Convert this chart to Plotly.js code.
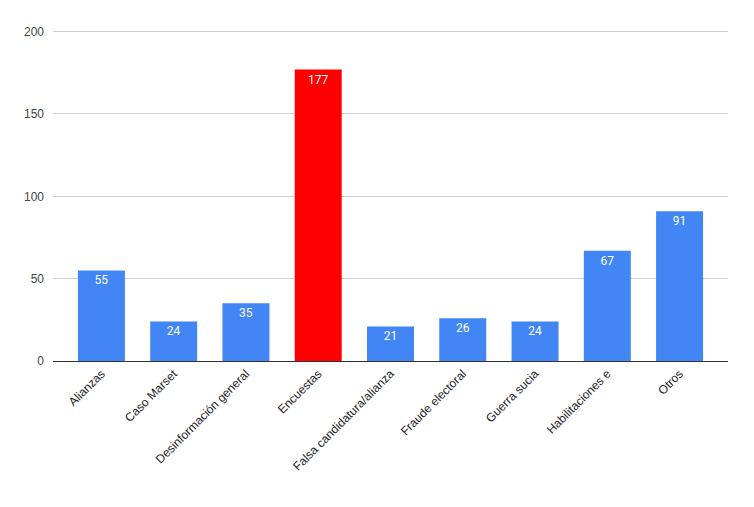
<!DOCTYPE html>
<html>
<head>
<meta charset="utf-8">
<script src="https://cdn.plot.ly/plotly-3.0.1.min.js"></script>
<style>
  html, body { margin: 0; padding: 0; background: #fff; }
  #chart { width: 754px; height: 507px; }
</style>
</head>
<body>
<div id="chart"></div>
<script>
// Temas y número de publicaciones
const categorias = ['Alianzas', 'Caso Marset', 'Desinformación general', 'Encuestas',
  'Falsa candidatura/alianza', 'Fraude electoral', 'Guerra sucia', 'Habilitaciones e', 'Otros'];
const valores = [55, 24, 35, 177, 21, 26, 24, 67, 91];
const destacado = 'Encuestas';
const ticksY = [0, 50, 100, 150, 200];

const colores = categorias.map(c => c === destacado ? '#ff0000' : '#4285f4');

const traza = {
  type: 'bar',
  x: categorias,
  y: valores,
  marker: { color: colores },
  text: valores.map(String),
  textposition: 'inside',
  insidetextanchor: 'end',
  textfont: { family: 'Roboto, Arial, sans-serif', size: 12, color: '#ffffff' },
  hoverinfo: 'x+y',
};

Plotly.newPlot('chart', [traza], {
  width: 754, height: 507,
  paper_bgcolor: '#fff', plot_bgcolor: '#fff',
  margin: { l: 53, r: 26, t: 30, b: 146 },
  bargap: 0.35,
  showlegend: false,
  font: { family: 'Arial, Liberation Sans, sans-serif', size: 12, color: '#222' },
  xaxis: {
    type: 'category',
    range: [-0.67, 8.67],
    tickangle: -45,
    ticks: '',
    showgrid: false,
    showline: true, linecolor: '#333', linewidth: 1,
    tickfont: { size: 12, color: '#222' },
  },
  yaxis: {
    range: [0, 201],
    tickvals: ticksY,
    gridcolor: '#cccccc',
    zeroline: false,
    ticks: '',
    ticklabelstandoff: 8,
    tickfont: { size: 12, color: '#444' },
  },
}, { displayModeBar: false, staticPlot: true });
</script>
</body>
</html>
